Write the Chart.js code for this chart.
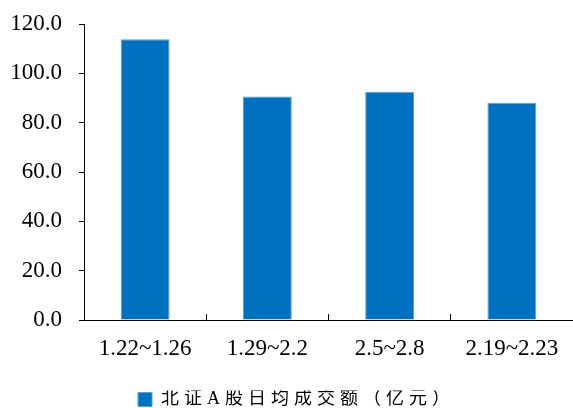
<!DOCTYPE html>
<html>
<head>
<meta charset="utf-8">
<script src="https://cdn.jsdelivr.net/npm/chart.js@4"></script>
<style>
html,body{margin:0;padding:0;background:#fff;}
#wrap{width:573px;height:408px;position:relative;}
</style>
</head>
<body>
<div id="wrap"><canvas id="c"></canvas></div>
<script>
const categories = ["1.22~1.26", "1.29~2.2", "2.5~2.8", "2.19~2.23"];
const seriesName = "北证A股日均成交额（亿元）";
const seriesValues = [113.8, 90.6, 92.5, 88.1];
const yTicks = [0, 20, 40, 60, 80, 100, 120];

const serif = '"Liberation Serif", "Times New Roman", serif';
const cjk = '"Liberation Serif", "Noto Sans CJK SC", serif';

const legendSpacing = {
  id: 'legendSpacing',
  afterInit(chart) {
    const lg = chart.legend;
    if (!lg) return;
    const origFit = lg.fit;
    const origDraw = lg.draw;
    lg.fit = function () {
      const ctx = this.ctx;
      const prev = ctx.letterSpacing;
      ctx.letterSpacing = '5px';
      origFit.apply(this, arguments);
      ctx.letterSpacing = prev;
      this.height = 17.5;
    };
    lg.draw = function () {
      const ctx = this.ctx;
      const prev = ctx.letterSpacing;
      ctx.save();
      ctx.translate(10, 0);
      ctx.letterSpacing = '5px';
      origDraw.apply(this, arguments);
      ctx.letterSpacing = prev;
      ctx.restore();
    };
  }
};

new Chart(document.getElementById('c'), {
  type: 'bar',
  data: {
    labels: categories,
    datasets: [{
      label: seriesName,
      data: seriesValues,
      backgroundColor: '#0070C0',
      borderColor: '#5b9fd8',
      borderWidth: 1,
      barPercentage: 0.4,
      categoryPercentage: 1.0
    }]
  },
  plugins: [legendSpacing],
  options: {
    responsive: true,
    maintainAspectRatio: false,
    animation: false,
    devicePixelRatio: 1,
    layout: { padding: { top: 24, right: 0, left: 0, bottom: 0 } },
    plugins: {
      tooltip: { enabled: false },
      legend: {
        position: 'bottom',
        labels: {
          boxWidth: 14,
          boxHeight: 14,
          padding: 0,
          color: '#000',
          font: { family: cjk, size: 18 }
        }
      }
    },
    scales: {
      x: {
        afterFit: (scale) => { scale.height = 390.5 - 320; scale.paddingLeft = 0; scale.paddingRight = 0; },
        grid: {
          offset: true,
          drawOnChartArea: false,
          drawTicks: true,
          tickLength: -6,
          tickColor: '#000',
          tickWidth: 1
        },
        border: { display: true, color: '#000', width: 1 },
        ticks: {
          color: '#000',
          padding: 21,
          maxRotation: 0,
          font: { family: serif, size: 23 }
        }
      },
      y: {
        min: 0,
        max: 120,
        afterBuildTicks: (scale) => { scale.ticks = yTicks.map(v => ({ value: v })); },
        afterFit: (scale) => { scale.width = 84; scale.paddingTop = 0; scale.paddingBottom = 0; },
        grid: {
          drawOnChartArea: false,
          drawTicks: true,
          tickLength: 5,
          tickColor: '#000'
        },
        border: { display: true, color: '#000', width: 1 },
        ticks: {
          color: '#000',
          padding: 17,
          font: { family: serif, size: 23 },
          callback: (v) => Number(v).toFixed(1)
        }
      }
    }
  }
});
</script>
</body>
</html>
